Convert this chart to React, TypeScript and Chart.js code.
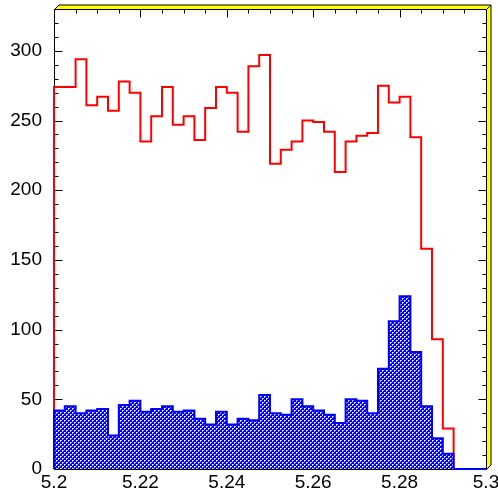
import { useEffect, useRef } from "react";
import { Chart, registerables } from "chart.js";

Chart.register(...registerables);

// Histogram binning (40 bins over the mass window)
const X_MIN = 5.2;
const X_MAX = 5.3;
const BIN_WIDTH = 0.0025;
const Y_MAX = 330;

const xTickLabels = ["5.2", "5.22", "5.24", "5.26", "5.28", "5.3"];
const yTickLabels = ["0", "50", "100", "150", "200", "250", "300"];

// Entries per bin, red outline histogram
const redCounts = [
  274, 274, 294, 261, 267, 257, 278, 270, 235, 253,
  274, 247, 253, 236, 259, 274, 270, 242, 289, 297,
  219, 229, 235, 250, 249, 242, 213, 235, 239, 241,
  275, 263, 267, 238, 158, 93, 29, 0, 0, 0,
];

// Entries per bin, blue hatched histogram
const blueCounts = [
  42, 45, 40, 42, 43, 24, 46, 49, 41, 43,
  45, 41, 42, 36, 32, 41, 32, 36, 35, 53,
  40, 39, 50, 45, 42, 39, 33, 50, 49, 40,
  72, 106, 124, 84, 45, 22, 11, 0, 0, 0,
];

const FONT = "'Liberation Sans', Arial, Helvetica, sans-serif";

// Step outline: start at the axis, one point per bin low edge, close at the axis
function histogramPoints(counts: number[]) {
  const pts = [{ x: X_MIN, y: 0 }];
  counts.forEach((c, i) => pts.push({ x: X_MIN + i * BIN_WIDTH, y: c }));
  pts.push({ x: X_MAX, y: 0 });
  return pts;
}

// Dotted cross-hatch fill
function makeHatch(): CanvasPattern | string {
  const tile = document.createElement("canvas");
  tile.width = 4;
  tile.height = 4;
  const c = tile.getContext("2d");
  if (!c) return "#0000ff";
  c.fillStyle = "#0000ff";
  c.fillRect(0, 0, 4, 4);
  c.fillStyle = "#b4b4ff";
  c.fillRect(1, 0, 1, 1);
  c.fillRect(0, 1, 1, 1);
  c.fillRect(3, 2, 1, 1);
  c.fillRect(2, 3, 1, 1);
  c.fillStyle = "#ffffff";
  c.fillRect(0, 0, 1, 1);
  c.fillRect(2, 2, 1, 1);
  const p = c.createPattern(tile, "repeat");
  return p || "#0000ff";
}

// Frame with inward ticks and the yellow bevel along the top and right
const framePlugin = {
  id: "rootFrame",
  beforeDatasetsDraw(chart: any) {
    const { ctx, chartArea } = chart;
    const xs = chart.scales.x;
    const ys = chart.scales.y;
    const L = Math.round(chartArea.left) + 0.5;
    const R = Math.round(chartArea.right) + 0.5;
    const T = Math.round(chartArea.top) + 0.5;
    const B = Math.round(chartArea.bottom) + 0.5;
    ctx.save();

    // bevel
    const d = 4.5;
    ctx.fillStyle = "#ffff00";
    ctx.strokeStyle = "#000000";
    ctx.lineWidth = 1;
    ctx.beginPath();
    ctx.moveTo(L, T);
    ctx.lineTo(L + d, T - d);
    ctx.lineTo(R + d, T - d);
    ctx.lineTo(R, T);
    ctx.closePath();
    ctx.fill();
    ctx.stroke();
    ctx.beginPath();
    ctx.moveTo(R, T);
    ctx.lineTo(R + d, T - d);
    ctx.lineTo(R + d, B - d);
    ctx.lineTo(R, B);
    ctx.closePath();
    ctx.fill();
    ctx.stroke();

    // frame
    ctx.strokeStyle = "#000000";
    ctx.beginPath();
    ctx.rect(L, T, R - L, B - T);
    ctx.stroke();

    // y ticks, left and right
    ctx.beginPath();
    for (let v = 0; v <= Y_MAX; v += 10) {
      const y = Math.round(ys.getPixelForValue(v)) + 0.5;
      const len = v % 50 === 0 ? 8 : 4;
      ctx.moveTo(L, y);
      ctx.lineTo(L + len, y);
      ctx.moveTo(R, y);
      ctx.lineTo(R - len, y);
    }
    // x ticks along the top
    for (let i = 0; i <= 20; i++) {
      const v = X_MIN + i * 0.005;
      const x = Math.round(xs.getPixelForValue(v)) + 0.5;
      const len = i % 4 === 0 ? 8 : 4;
      ctx.moveTo(x, T);
      ctx.lineTo(x, T + len);
    }
    ctx.stroke();
    ctx.restore();
  },
};

export default function App() {
  const ref = useRef<HTMLCanvasElement | null>(null);

  useEffect(() => {
    if (!ref.current) return;
    const hatch = makeHatch();
    const chart = new Chart(ref.current, {
      type: "line",
      data: {
        datasets: [
          {
            label: "blue",
            data: histogramPoints(blueCounts),
            stepped: "before",
            borderColor: "#0000ff",
            borderWidth: 2,
            backgroundColor: hatch as any,
            fill: "origin",
            pointRadius: 0,
            clip: 4,
          },
          {
            label: "red",
            data: histogramPoints(redCounts),
            stepped: "before",
            borderColor: "#ff0000",
            borderWidth: 2,
            fill: false,
            pointRadius: 0,
            clip: 4,
          },
        ],
      },
      options: {
        animation: false,
        responsive: false,
        devicePixelRatio: 1,
        parsing: false as any,
        layout: { padding: { top: 9, right: 12, left: 0, bottom: 0 } },
        plugins: {
          legend: { display: false },
          tooltip: { enabled: false },
        },
        scales: {
          x: {
            type: "linear",
            min: X_MIN,
            max: X_MAX,
            grid: { display: false, drawTicks: false },
            border: { display: false },
            afterBuildTicks: (s: any) => {
              s.ticks = xTickLabels.map((l) => ({ value: parseFloat(l), label: l }));
            },
            afterFit: (s: any) => {
              s.height = 22;
              s.paddingLeft = 0;
              s.paddingRight = 0;
              s.paddingTop = 0;
              s.paddingBottom = 0;
            },
            ticks: {
              autoSkip: false,
              maxRotation: 0,
              padding: 2,
              color: "#000000",
              font: { family: FONT, size: 19 },
              callback: (v: any) => {
                const hit = xTickLabels.find((l) => Math.abs(parseFloat(l) - v) < 1e-6);
                return hit ?? "";
              },
            },
          },
          y: {
            type: "linear",
            min: 0,
            max: Y_MAX,
            grid: { display: false, drawTicks: false },
            border: { display: false },
            afterBuildTicks: (s: any) => {
              s.ticks = yTickLabels.map((l) => ({ value: parseFloat(l), label: l }));
            },
            afterFit: (s: any) => {
              s.width = 54;
              s.paddingLeft = 0;
              s.paddingRight = 0;
              s.paddingTop = 0;
              s.paddingBottom = 0;
            },
            ticks: {
              autoSkip: false,
              padding: 12,
              color: "#000000",
              font: { family: FONT, size: 19 },
              callback: (v: any) => {
                const hit = yTickLabels.find((l) => Math.abs(parseFloat(l) - v) < 1e-6);
                return hit ?? "";
              },
            },
          },
        },
      },
      plugins: [framePlugin],
    });
    return () => chart.destroy();
  }, []);

  return (
    <div style={{ position: "absolute", left: 0, top: 0, width: 498, height: 491, background: "#ffffff" }}>
      <canvas ref={ref} width={498} height={491} />
    </div>
  );
}
